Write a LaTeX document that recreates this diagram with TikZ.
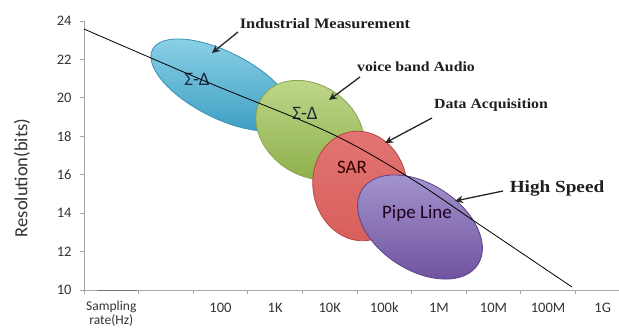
\documentclass[tikz,border=0pt]{standalone}
\usepackage{fontspec}
\setmainfont{Carlito}
\newfontfamily\annotfont{Liberation Serif}[FakeStretch=1.13]
\usetikzlibrary{arrows.meta,shapes.geometric}

\definecolor{blueTop}{HTML}{8ED3E8}
\definecolor{blueBot}{HTML}{3A9CC0}
\definecolor{blueEdge}{HTML}{3A93B4}
\definecolor{greenTop}{HTML}{C0D98C}
\definecolor{greenBot}{HTML}{8DAE49}
\definecolor{greenEdge}{HTML}{87A54B}
\definecolor{redTop}{HTML}{E27572}
\definecolor{redBot}{HTML}{D85F5B}
\definecolor{redEdge}{HTML}{B64441}
\definecolor{purpleTop}{HTML}{A597CF}
\definecolor{purpleBot}{HTML}{6E509D}
\definecolor{purpleEdge}{HTML}{5A418C}
\definecolor{axisgray}{HTML}{A6A6A6}
\definecolor{inktext}{HTML}{1F2440}

\begin{document}
\begin{tikzpicture}[x=1pt,y=-1pt,
  axisline/.style={draw=axisgray, line width=1pt},
  region/.style={ellipse, inner sep=0pt, line width=0.8pt},
  inlabel/.style={font=\fontsize{19}{19}\selectfont, text=inktext},
  ticklabel/.style={font=\fontsize{14.5}{16}\selectfont, text=black!80},
  callout/.style={font=\annotfont\bfseries\fontsize{14}{16}\selectfont, text=black!88},
  pointer/.style={draw=black!85, line width=1.3pt, -{Stealth[length=8pt,width=7.5pt]}},
]
\useasboundingbox (0,0) rectangle (619,329);

% axes
\coordinate (origin) at (84,290);
\coordinate (ytop) at (84,21);
\coordinate (xend) at (619,290);
\draw[axisline] (ytop) -- (origin) -- (xend);
\draw[draw=black!55, line width=1pt] (97,290) -- (137,290);

% y ticks and labels
\foreach \v in {10,12,...,24} {
  \pgfmathsetmacro{\yy}{290-(\v-10)*19.21}
  \draw[axisline] (80,\yy) -- (84,\yy);
  \node[ticklabel, anchor=east] (y\v) at (75,\yy) {\v};
}

% x ticks
\foreach \k in {0,...,9} {
  \pgfmathsetmacro{\xx}{84+\k*54.6}
  \draw[axisline] (\xx,290) -- (\xx,294);
}

% x labels
\node[ticklabel, font=\fontsize{13.5}{15}\selectfont] (xs1) at (111.3,306.5) {Sampling};
\node[ticklabel, font=\fontsize{13.5}{15}\selectfont] (xs2) at (111.3,320.5) {rate(Hz)};
\foreach \lab [count=\i from 2] in {100,1K,10K,100k,1M,10M,100M,1G} {
  \pgfmathsetmacro{\xx}{84+(\i+0.5)*54.6}
  \node[ticklabel] (x\i) at (\xx,308) {\lab};
}

% axis title
\node[font=\fontsize{18.5}{20}\selectfont, text=black!80, rotate=90] (ytitle) at (22,178) {Resolution(bits)};

% converter regions
\node[region, draw=blueEdge, top color=blueTop, bottom color=blueBot,
      minimum width=156, minimum height=66, rotate=-27] (sd1) at (222,85) {};
\node[region, draw=greenEdge, top color=greenTop, bottom color=greenBot,
      minimum width=116, minimum height=90, rotate=-35] (sd2) at (310,130) {};
\node[region, draw=redEdge, top color=redTop, bottom color=redBot,
      minimum width=94, minimum height=110, rotate=10] (sar) at (360,186) {};
\node[region, draw=purpleEdge, top color=purpleTop, bottom color=purpleBot,
      minimum width=138, minimum height=86, rotate=-33] (pipe) at (420,227) {};

% region names
\node[inlabel] (sd1txt) at (197,79) {Σ-Δ};
\node[inlabel] (sd2txt) at (305,113) {Σ-Δ};
\node[inlabel, text=black!80!red] (sartxt) at (352,167) {SAR};
\node[inlabel, text=black!75!violet] (pipetxt) at (417,213) {Pipe Line};

% resolution limit curve
\draw[black, line width=0.8pt] plot[smooth, tension=0.55]
  coordinates {(84,29) (207,82) (330,133) (410,178) (480,225) (572,287)};

% application callouts
\node[callout, font=\annotfont\bfseries\fontsize{14.5}{16}\selectfont] (ind) at (325,24) {Industrial Measurement};
\node[callout] (voice) at (416,67) {voice band Audio};
\node[callout] (daq) at (491,105) {Data Acquisition};
\node[callout, font=\annotfont\bfseries\fontsize{17}{19}\selectfont] (hs) at (557,188) {High Speed};

\coordinate (indTail) at (238,32);   \coordinate (indTip) at (212,53);
\coordinate (voiceTail) at (360,77); \coordinate (voiceTip) at (329,100);
\coordinate (daqTail) at (432,118);  \coordinate (daqTip) at (385,143);
\coordinate (hsTail) at (503,191);   \coordinate (hsTip) at (455,201);
\draw[pointer] (indTail) -- (indTip);
\draw[pointer] (voiceTail) -- (voiceTip);
\draw[pointer] (daqTail) -- (daqTip);
\draw[pointer] (hsTail) -- (hsTip);
\end{tikzpicture}
\end{document}
